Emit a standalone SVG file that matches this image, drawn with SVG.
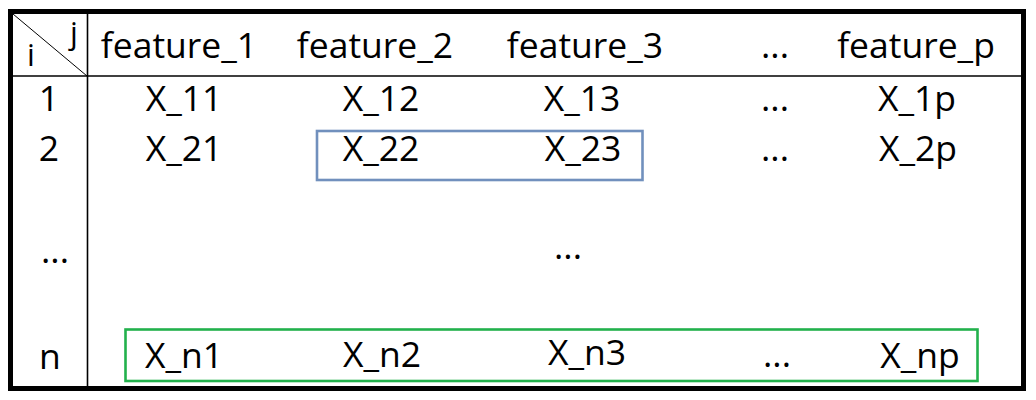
<svg xmlns="http://www.w3.org/2000/svg" width="1036" height="400" viewBox="0 0 1036 400">
<style>
.t{font-family:"Open Sans","Liberation Sans",sans-serif;font-size:35.5px;fill:#000;text-anchor:middle}
.s{font-family:"Open Sans","Liberation Sans",sans-serif;font-size:31px;fill:#000;text-anchor:middle}
.grid{stroke:#000;fill:none}
</style>
<rect width="1036" height="400" fill="#fff"/>
<g id="table">
<rect class="grid" x="10.5" y="11.5" width="1013" height="377" stroke-width="5"/>
<line class="grid" x1="87.5" y1="14" x2="87.5" y2="386" stroke-width="1.6"/>
<line class="grid" x1="13" y1="76" x2="1021" y2="76" stroke-width="1.6"/>
<line class="grid" x1="13" y1="14" x2="87" y2="76" stroke-width="1"/>
</g>
<g id="corner">
<text class="s" x="74" y="44">j</text>
<text class="s" x="31" y="66">i</text>
</g>
<g id="header">
<text class="t" x="179" y="58">feature_1</text>
<text class="t" x="375" y="58">feature_2</text>
<text class="t" x="585" y="58">feature_3</text>
<text class="t" x="775" y="58">...</text>
<text class="t" x="916" y="58">feature_p</text>
</g>
<g id="row1">
<text class="t" x="49" y="111">1</text>
<text class="t" x="184" y="111">X_11</text>
<text class="t" x="381" y="111">X_12</text>
<text class="t" x="582" y="111">X_13</text>
<text class="t" x="775" y="111">...</text>
<text class="t" x="917" y="111">X_1p</text>
</g>
<g id="row2">
<text class="t" x="49" y="161">2</text>
<text class="t" x="184" y="161">X_21</text>
<text class="t" x="381" y="161">X_22</text>
<text class="t" x="583" y="161">X_23</text>
<text class="t" x="775" y="161">...</text>
<text class="t" x="918" y="161">X_2p</text>
</g>
<g id="rowdots">
<text class="t" x="55" y="263">...</text>
<text class="t" x="568" y="259">...</text>
</g>
<g id="rown">
<text class="t" x="50" y="369">n</text>
<text class="t" x="184" y="368">X_n1</text>
<text class="t" x="382" y="367">X_n2</text>
<text class="t" x="587" y="365">X_n3</text>
<text class="t" x="777" y="367">...</text>
<text class="t" x="920" y="368">X_np</text>
</g>
<g id="highlights">
<rect id="box-blue" x="317" y="131" width="325.5" height="49" fill="none" stroke="#7190BD" stroke-width="2.6"/>
<rect id="box-green" x="125.5" y="329.5" width="852" height="51.5" fill="none" stroke="#22B14C" stroke-width="2.6"/>
</g>
</svg>
